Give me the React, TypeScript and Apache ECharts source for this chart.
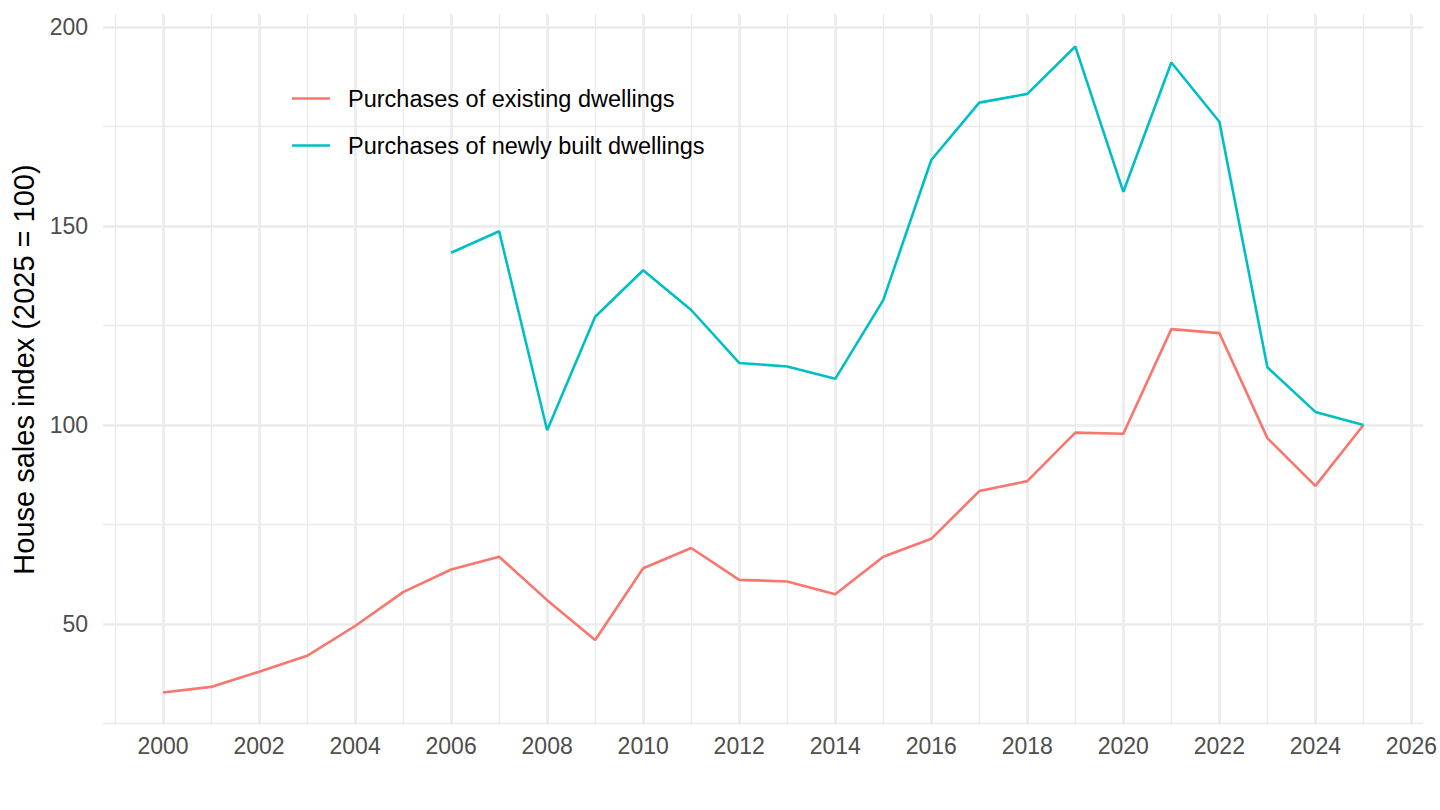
import React, { useEffect, useRef } from "react";
import * as echarts from "echarts";

const years = [2000, 2001, 2002, 2003, 2004, 2005, 2006, 2007, 2008, 2009, 2010, 2011, 2012, 2013, 2014, 2015, 2016, 2017, 2018, 2019, 2020, 2021, 2022, 2023, 2024, 2025];
const existing = [32.8, 34.2, 38.0, 42.0, 49.5, 58.0, 63.7, 66.9, 56.0, 46.0, 64.0, 69.1, 61.1, 60.7, 57.5, 66.9, 71.4, 83.4, 85.9, 98.1, 97.8, 124.1, 123.1, 96.7, 84.7, 100];
const newlyBuilt: (number | null)[] = [null, null, null, null, null, null, 143.3, 148.7, 98.7, 127.2, 138.9, 128.9, 115.6, 114.7, 111.6, 131.4, 166.6, 181.0, 183.2, 195.1, 158.6, 191.1, 176.2, 114.5, 103.3, 100];

const seriesNames = ["Purchases of existing dwellings", "Purchases of newly built dwellings"];
const seriesColors = ["#F8766D", "#00BFC4"];

const xMajorTicks = [2000, 2002, 2004, 2006, 2008, 2010, 2012, 2014, 2016, 2018, 2020, 2022, 2024, 2026];
const xMinorTicks = [1999, 2001, 2003, 2005, 2007, 2009, 2011, 2013, 2015, 2017, 2019, 2021, 2023, 2025];
const yMajorTicks = [50, 100, 150, 200];
const yMinorTicks = [25, 75, 125, 175];

const yTitle = "House sales index (2025 = 100)";

const FONT = "'Liberation Sans', Arial, Helvetica, sans-serif";
const X_MIN = 1998.75;
const X_MAX = 2026.25;
const Y_MIN = 24.7;
const Y_MAX = 203.2;

export default function App() {
  const ref = useRef<HTMLDivElement>(null);

  useEffect(() => {
    if (!ref.current) return;
    const chart = echarts.init(ref.current, undefined, { renderer: "svg" });

    const toPairs = (vals: (number | null)[]) =>
      years.map((y, i) => [y, vals[i]] as [number, number | null]).filter((p) => p[1] !== null);

    const option: any = {
      animation: false,
      backgroundColor: "#FFFFFF",
      textStyle: { fontFamily: FONT },
      grid: { left: 103, right: 15, top: 14.3, bottom: 85.3, containLabel: false },
      legend: {
        orient: "vertical",
        left: 287,
        top: 81.5,
        icon: "rect",
        itemWidth: 38,
        itemHeight: 2.5,
        itemGap: 23,
        data: seriesNames,
        textStyle: { fontSize: 23.5, color: "#000000", fontFamily: FONT, lineHeight: 23, padding: [0, 0, 0, 13] },
      },
      xAxis: [
        {
          type: "value",
          min: X_MIN,
          max: X_MAX,
          z: 1,
          axisLine: { show: false },
          axisTick: { show: false, customValues: xMinorTicks },
          axisLabel: { show: false },
          splitLine: { show: true, lineStyle: { color: "#EBEBEB", width: 1.3 } },
        },
        {
          type: "value",
          min: X_MIN,
          max: X_MAX,
          z: 2,
          position: "bottom",
          axisLine: { show: false },
          axisTick: { show: false, customValues: xMajorTicks },
          axisLabel: {
            customValues: xMajorTicks,
            color: "#4D4D4D",
            fontSize: 23,
            fontFamily: FONT,
            margin: 10,
            formatter: (v: number) => String(v),
          },
          splitLine: { show: true, lineStyle: { color: "#EBEBEB", width: 2.6 } },
        },
      ],
      yAxis: [
        {
          type: "value",
          min: Y_MIN,
          max: Y_MAX,
          z: 1,
          axisLine: { show: false },
          axisTick: { show: false, customValues: yMinorTicks },
          axisLabel: { show: false },
          splitLine: { show: true, lineStyle: { color: "#EBEBEB", width: 1.3 } },
        },
        {
          type: "value",
          min: Y_MIN,
          max: Y_MAX,
          z: 2,
          position: "left",
          axisLine: { show: false },
          axisTick: { show: false, customValues: yMajorTicks },
          axisLabel: {
            customValues: yMajorTicks,
            color: "#4D4D4D",
            fontSize: 23,
            fontFamily: FONT,
            margin: 15,
            formatter: (v: number) => String(v),
          },
          splitLine: { show: true, lineStyle: { color: "#EBEBEB", width: 2.6 } },
          name: yTitle,
          nameLocation: "middle",
          nameGap: 61,
          nameTextStyle: { fontSize: 29, color: "#000000", fontFamily: FONT },
        },
      ],
      series: [
        {
          name: seriesNames[0],
          type: "line",
          xAxisIndex: 1,
          yAxisIndex: 1,
          data: toPairs(existing),
          showSymbol: false,
          symbol: "none",
          color: seriesColors[0],
          lineStyle: { color: seriesColors[0], width: 2.6 },
          z: 5,
        },
        {
          name: seriesNames[1],
          type: "line",
          xAxisIndex: 1,
          yAxisIndex: 1,
          data: toPairs(newlyBuilt),
          showSymbol: false,
          symbol: "none",
          color: seriesColors[1],
          lineStyle: { color: seriesColors[1], width: 2.6 },
          z: 5,
        },
      ],
    };

    chart.setOption(option);
    return () => chart.dispose();
  }, []);

  return (
    <div
      ref={ref}
      style={{ position: "fixed", left: 0, top: 0, width: 1440, height: 810, background: "#FFFFFF" }}
    />
  );
}
